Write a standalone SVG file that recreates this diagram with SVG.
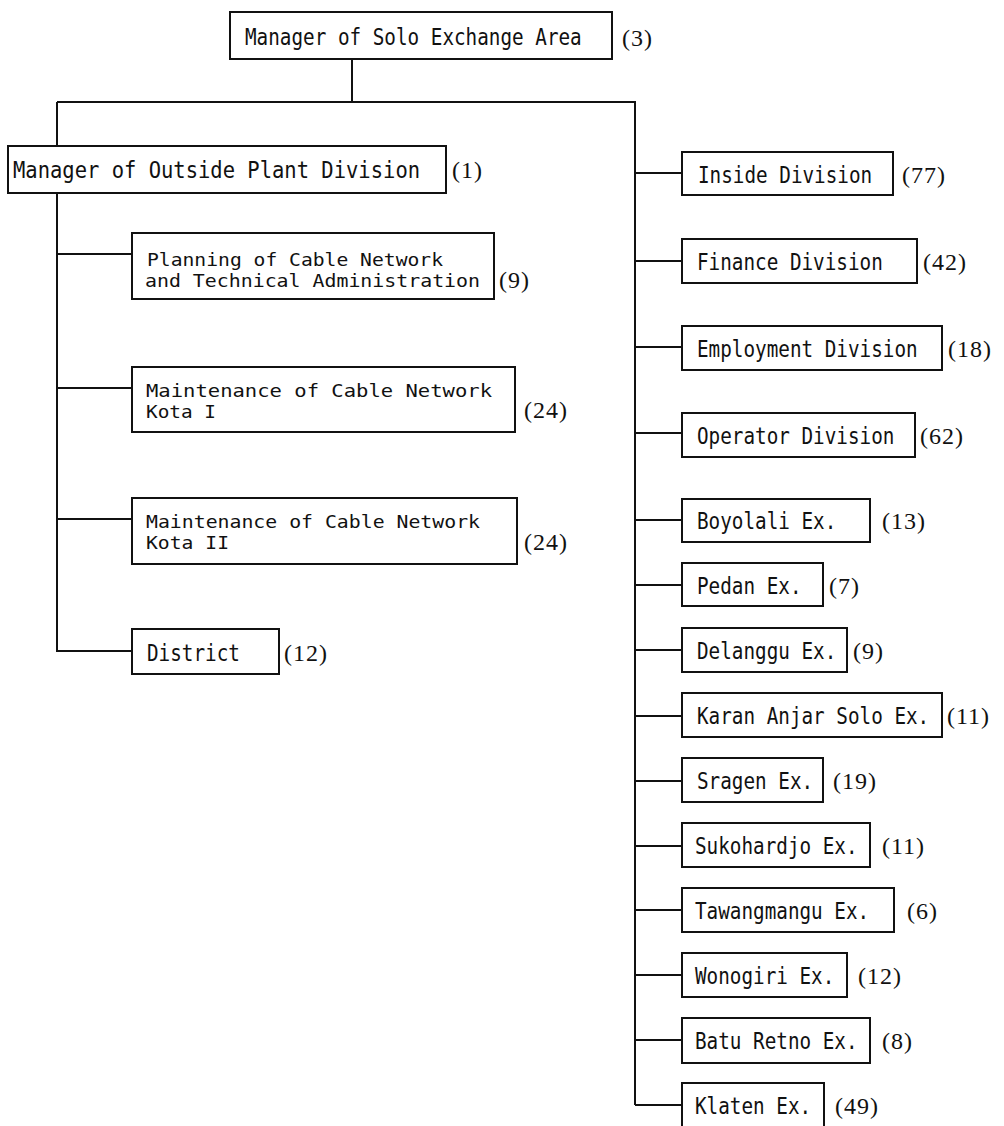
<svg xmlns="http://www.w3.org/2000/svg" width="1004" height="1126" viewBox="0 0 1004 1126">
<style>
.box{fill:#fff;stroke:#111;stroke-width:2}
.t{font-family:"DejaVu Sans Mono","Liberation Mono",monospace;font-size:19.3px;fill:#111}
.tb{font-family:"DejaVu Sans Mono","Liberation Mono",monospace;font-size:20.5px;fill:#111}
.t2{font-family:"DejaVu Sans Mono","Liberation Mono",monospace;font-size:18px;fill:#111}
.n{font-family:"Liberation Serif",serif;font-size:24px;fill:#111;letter-spacing:1px}
.c{stroke:#111;stroke-width:2;fill:none}
</style>
<rect width="1004" height="1126" fill="#fff"/>
<g id="connectors">
<path class="c" d="M352 59V102M57 102H635V1105M57 102V146M57 193V651H132M57 254H132M57 388H132M57 519H132"/>
<path class="c" d="M635 173H682M635 261H682M635 347H682M635 433H682M635 520H682M635 585H682M635 650H682M635 716H682M635 781H682M635 846H682M635 910H682M635 975H682M635 1040H682M635 1105H682"/>
</g>
<g id="n-top"><rect class="box" x="230" y="12" width="382" height="47"/><text class="t" transform="translate(245 45) scale(1 1.18)">Manager of Solo Exchange Area</text><text class="n" x="622" y="46">(3)</text></g>
<g id="n-outside"><rect class="box" x="8" y="146" width="438" height="47"/><text class="tb" transform="translate(13 178) scale(1 1.15)">Manager of Outside Plant Division</text><text class="n" x="452" y="178">(1)</text></g>
<g id="n-planning"><rect class="box" x="132" y="233" width="362" height="66"/><text class="t2" x="147" y="266" textLength="296" lengthAdjust="spacingAndGlyphs">Planning of Cable Network</text><text class="t2" x="145" y="287" textLength="335" lengthAdjust="spacingAndGlyphs">and Technical Administration</text><text class="n" x="499" y="288">(9)</text></g>
<g id="n-kota1"><rect class="box" x="132" y="367" width="383" height="65"/><text class="t2" x="146" y="397" textLength="346" lengthAdjust="spacingAndGlyphs">Maintenance of Cable  Network</text><text class="t2" x="146" y="418" textLength="70" lengthAdjust="spacingAndGlyphs">Kota I</text><text class="n" x="524" y="418">(24)</text></g>
<g id="n-kota2"><rect class="box" x="132" y="498" width="385" height="66"/><text class="t2" x="146" y="528" textLength="334" lengthAdjust="spacingAndGlyphs">Maintenance of Cable Network</text><text class="t2" x="146" y="549" textLength="83" lengthAdjust="spacingAndGlyphs">Kota II</text><text class="n" x="524" y="550">(24)</text></g>
<g id="n-district"><rect class="box" x="132" y="629" width="147" height="45"/><text class="t" transform="translate(147 661) scale(1 1.18)">District</text><text class="n" x="284" y="661">(12)</text></g>
<g id="n-inside"><rect class="box" x="682" y="152" width="211" height="43"/><text class="t" transform="translate(698 183) scale(1 1.18)">Inside Division</text><text class="n" x="902" y="183">(77)</text></g>
<g id="n-finance"><rect class="box" x="682" y="239" width="235" height="44"/><text class="t" transform="translate(697 270) scale(1 1.18)">Finance Division</text><text class="n" x="923" y="270">(42)</text></g>
<g id="n-employment"><rect class="box" x="682" y="326" width="260" height="44"/><text class="t" transform="translate(697 357) scale(1 1.18)">Employment Division</text><text class="n" x="948" y="357">(18)</text></g>
<g id="n-operator"><rect class="box" x="682" y="413" width="233" height="44"/><text class="t" transform="translate(697 444) scale(1 1.18)">Operator Division</text><text class="n" x="920" y="444">(62)</text></g>
<g id="n-boyolali"><rect class="box" x="682" y="499" width="188" height="43"/><text class="t" transform="translate(697 529) scale(1 1.18)">Boyolali Ex.</text><text class="n" x="882" y="529">(13)</text></g>
<g id="n-pedan"><rect class="box" x="682" y="563" width="141" height="43"/><text class="t" transform="translate(697 594) scale(1 1.18)">Pedan Ex.</text><text class="n" x="829" y="594">(7)</text></g>
<g id="n-delanggu"><rect class="box" x="682" y="628" width="165" height="44"/><text class="t" transform="translate(697 659) scale(1 1.18)">Delanggu Ex.</text><text class="n" x="853" y="659">(9)</text></g>
<g id="n-karan"><rect class="box" x="682" y="693" width="260" height="44"/><text class="t" transform="translate(697 724) scale(1 1.18)">Karan Anjar Solo Ex.</text><text class="n" x="947" y="724">(11)</text></g>
<g id="n-sragen"><rect class="box" x="682" y="758" width="141" height="44"/><text class="t" transform="translate(697 789) scale(1 1.18)">Sragen Ex.</text><text class="n" x="833" y="789">(19)</text></g>
<g id="n-sukohardjo"><rect class="box" x="682" y="823" width="188" height="44"/><text class="t" transform="translate(695 854) scale(1 1.18)">Sukohardjo Ex.</text><text class="n" x="882" y="854">(11)</text></g>
<g id="n-tawangmangu"><rect class="box" x="682" y="888" width="212" height="44"/><text class="t" transform="translate(695 919) scale(1 1.18)">Tawangmangu Ex.</text><text class="n" x="907" y="919">(6)</text></g>
<g id="n-wonogiri"><rect class="box" x="682" y="953" width="165" height="44"/><text class="t" transform="translate(695 984) scale(1 1.18)">Wonogiri Ex.</text><text class="n" x="858" y="984">(12)</text></g>
<g id="n-baturetno"><rect class="box" x="682" y="1018" width="188" height="45"/><text class="t" transform="translate(695 1049) scale(1 1.18)">Batu Retno Ex.</text><text class="n" x="882" y="1049">(8)</text></g>
<g id="n-klaten"><rect class="box" x="682" y="1083" width="142" height="45"/><text class="t" transform="translate(695 1114) scale(1 1.18)">Klaten Ex.</text><text class="n" x="835" y="1114">(49)</text></g>
</svg>
